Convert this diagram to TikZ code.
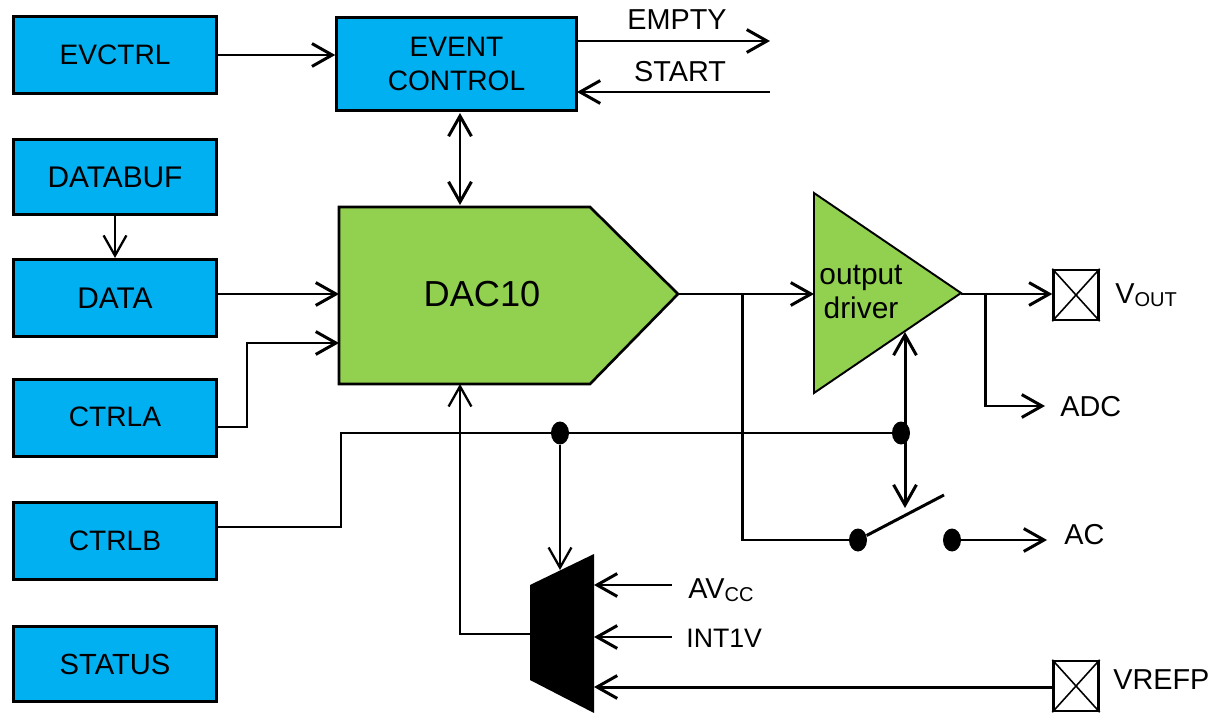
\documentclass[tikz,border=0pt]{standalone}
\usepackage{fontspec}
\setmainfont{Liberation Sans}
\usetikzlibrary{arrows.meta,positioning,calc,shapes.geometric}
\definecolor{regblue}{RGB}{0,176,240}
\definecolor{dacgreen}{RGB}{146,208,80}
\newcommand{\lowtext}[1]{\raisebox{-2pt}{\fontsize{11.4}{12}\selectfont #1}}

\tikzset{
    reg/.style={draw, line width=1.5pt, fill=regblue, inner sep=0pt, align=center, minimum width=4.06cm, minimum height=1.55cm, font=\fontsize{16}{19.5}\selectfont},
    lbl/.style={inner sep=0pt, font=\fontsize{16.4}{19}\selectfont},
    pad/.style={draw, line width=1.4pt, fill=white, inner sep=0pt, minimum width=0.9cm, minimum height=1cm},
    jdot/.style={fill=black, ellipse, inner sep=0pt, minimum width=0.36cm, minimum height=0.46cm},
    wire/.style={line width=1.7pt, -{Straight Barb[length=11.5pt,width=13pt,line width=1.7pt]}},
    thinwire/.style={line width=1.3pt, -{Straight Barb[length=11.5pt,width=13pt,line width=1.3pt]}},
    both/.style={line width=1.7pt, {Straight Barb[length=11.5pt,width=13pt,line width=1.7pt]}-{Straight Barb[length=11.5pt,width=13pt,line width=1.7pt]}},
    plain/.style={line width=1.7pt}
}

\begin{document}
\begin{tikzpicture}[x=0.02cm,y=-0.02cm]
    \useasboundingbox (0,0) rectangle (1217,713);

    % Register boxes
    \node[reg] (evctrl) at (115,55) {EVCTRL};
    \node[reg, minimum height=1.5cm, font=\fontsize{17}{19}\selectfont] (databuf) at (115,177) {DATABUF};
    \node[reg, font=\fontsize{17}{19}\selectfont] (data) at (115,298) {\raisebox{-1pt}{DATA}};
    \node[reg] (ctrla) at (115,418) {\raisebox{1pt}{CTRLA}};
    \node[reg] (ctrlb) at (115,541) {CTRLB};
    \node[reg, minimum height=1.5cm, font=\fontsize{16.6}{19}\selectfont] (status) at (115,664) {STATUS};
    \node[reg, minimum width=4.8cm, minimum height=1.86cm] (evcontrol) at (456.5,64) {\raisebox{-0.6pt}{EVENT}\\\raisebox{-0.6pt}{CONTROL}};

    % DAC block
    \draw[line width=1.5pt, fill=dacgreen] (339,207) -- (590,207) -- (678,294) -- (590,384) -- (339,384) -- cycle;
    \node[lbl, font=\fontsize{20.6}{22}\selectfont] (dac) at (482,294) {DAC10};
    \coordinate (dacin) at (339,294);
    \coordinate (dacctrl) at (339,343);
    \coordinate (dactop) at (460,207);
    \coordinate (dacbot) at (460,384);
    \coordinate (dacout) at (678,294);

    % Output driver
    \draw[line width=1.1pt, fill=dacgreen] (814,193) -- (961,293) -- (814,393) -- cycle;
    \node[lbl, align=center, font=\fontsize{17}{19.5}\selectfont] (driver) at (861,292) {output\\driver};
    \coordinate (drvin) at (814,294);
    \coordinate (drvout) at (961,294);
    \coordinate (drvbot) at (905,332);

    % Pads
    \node[pad] (vout) at (1076,295) {};
    \draw[line width=0.9pt] (vout.north west) -- (vout.south east) (vout.north east) -- (vout.south west);
    \node[pad] (vrefp) at (1076,686) {};
    \draw[line width=0.9pt] (vrefp.north west) -- (vrefp.south east) (vrefp.north east) -- (vrefp.south west);

    % Reference mux
    \fill (530,585) -- (594,554) -- (594,713) -- (530,680) -- cycle;
    \coordinate (muxtop) at (560,570);
    \coordinate (muxout) at (530,634);
    \coordinate (muxa) at (594,585);
    \coordinate (muxb) at (594,637);
    \coordinate (muxc) at (594,687);

    % Labels
    \node[lbl] (empty) at (677,20) {EMPTY};
    \node[lbl] (start) at (680,72) {START};
    \node[lbl, anchor=west] (vlab) at (1115,295) {V\lowtext{OUT}};
    \node[lbl, anchor=west] (adc) at (1060,407) {ADC};
    \node[lbl, anchor=west] (ac) at (1064,535) {AC};
    \node[lbl, anchor=west] (avcc) at (688,590) {AV\lowtext{CC}};
    \node[lbl, anchor=west, font=\fontsize{15.2}{19}\selectfont] (intv) at (686,638) {INT1V};
    \node[lbl, anchor=west] (vreflab) at (1113,680) {VREFP};

    % Free ends
    \coordinate (emptyend) at (770,41);
    \coordinate (startend) at (770,92);
    \coordinate (emptyout) at (577,41);
    \coordinate (startin) at (577,92);
    \coordinate (ctrlaout) at (216,427);
    \coordinate (ctrlbout) at (216,527);
    \coordinate (vref) at (341,433);
    \coordinate (tapdac) at (742,294);
    \coordinate (tapout) at (985,294);
    \coordinate (adcend) at (1045,406);
    \coordinate (acend) at (1047,540);
    \coordinate (avccend) at (672,585);
    \coordinate (intvend) at (672,637);

    % Junction dots
    \node[jdot] (dotmux) at (560,433) {};
    \node[jdot] (dotdrv) at (901,433) {};
    \node[jdot] (swa) at (858,540) {};
    \node[jdot] (swb) at (952,540) {};
    \coordinate (swtip) at (944,495);
    \coordinate (swctl) at (905,508);

    % Wires
    \draw[wire] (evctrl.east) -- (evctrl.east -| evcontrol.west);
    \draw[wire] (emptyout) -- (emptyend);
    \draw[wire] (startend) -- (startin);
    \draw[both] (460,113) -- (460,205);
    \draw[thinwire] (databuf.south) -- (data.north);
    \draw[wire] (data.east |- dacin) -- (dacin);
    \draw[wire] (ctrlaout) -| (247,343) -- (dacctrl);
    \draw[plain] (ctrlbout) -| (vref) -- (dotmux) -- (dotdrv);
    \draw[thinwire] (dotmux) -- (muxtop);
    \draw[both] (drvbot) -- (swctl);
    \draw[wire] (dacout) -- (drvin);
    \draw[wire] (drvout) -- (vout.west |- drvout);
    \draw[wire] (tapout) |- (adcend);
    \draw[plain] (tapdac) |- (swa);
    \draw[plain] (swa) -- (swtip);
    \draw[wire] (swb) -- (acend);
    \draw[thinwire] (muxout) -| (dacbot);
    \draw[wire] (avccend) -- (muxa);
    \draw[wire] (intvend) -- (muxb);
    \draw[wire] (vrefp.west |- muxc) -- (muxc);
\end{tikzpicture}
\end{document}
